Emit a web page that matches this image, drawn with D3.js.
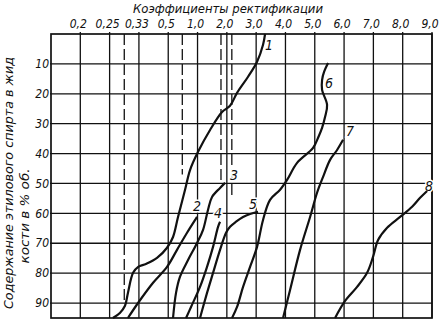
<!DOCTYPE html>
<html>
<head>
<meta charset="utf-8">
<script src="https://cdn.jsdelivr.net/npm/d3@7"></script>
<style>
    body { margin: 0; background: #fff; }
    text { font-family: 'Liberation Sans Narrow', 'DejaVu Sans Condensed', sans-serif; font-style: italic; fill: #111; }
</style>
</head>
<body>
<div class="chart"></div>
<script>
// rectification coefficients along the top, alcohol content (% vol.) down the side
const coefTicks = [0.2, 0.25, 0.33, 0.5, 1.0, 2.0, 3.0, 4.0, 5.0, 6.0, 7.0, 8.0, 9.0];
const coefLabels = ['0,2', '0,25', '0,33', '0,5', '1,0', '2,0', '3,0', '4,0', '5,0', '6,0', '7,0', '8,0', '9,0'];
const axisStart = 0.15;   // unlabeled left edge of the grid
const contentTicks = [10, 20, 30, 40, 50, 60, 70, 80, 90];

// dashed reference coefficients and the content where each one stops
const dashedCoefs = [0.29, 0.74, 1.8, 2.17];
const dashedEnds = [89, 47, 49.5, 55];

const curveNames = ['1', '2', '3', '4', '5', '6', '7', '8'];
// [coefficient, content %]
const curve1 = [[0.259, 95], [0.278, 93.3], [0.292, 90.9], [0.300, 86.6], [0.314, 79.9], [0.328, 77.9],
    [0.371, 76.9], [0.435, 74.9], [0.493, 71.5], [0.582, 67.9], [0.667, 61.2], [0.787, 52.1],
    [0.872, 45.5], [1.017, 39.4], [1.427, 32.1], [1.836, 26.1], [2.109, 24.0], [2.348, 19.7],
    [2.724, 14.3], [3.031, 9.3], [3.235, 3.6], [3.304, 0]];
const curve2 = [[0.300, 95], [0.328, 89.9], [0.412, 83.2], [0.493, 77.9], [0.650, 72.2], [0.821, 66.5], [0.992, 61.2]];
const curve3 = [[0.582, 95], [0.633, 86.6], [0.701, 81.2], [0.838, 75.6], [0.992, 69.9], [1.188, 65.5],
    [1.358, 58.8], [1.495, 54.5], [1.768, 51.5], [1.939, 49.8]];
const curve4 = [[0.804, 95], [0.889, 91.3], [1.085, 84.6], [1.324, 77.9], [1.529, 71.2], [1.700, 64.5], [1.768, 62.8]];
const curve5 = [[1.085, 95], [1.188, 91.3], [1.324, 86.6], [1.529, 79.9], [1.768, 72.2], [1.973, 66.5],
    [2.109, 64.5], [2.314, 62.8], [2.553, 61.2], [2.792, 60.2], [3.065, 59.5]];
const curve6 = [[2.177, 95], [2.348, 91.3], [2.553, 84.6], [2.792, 77.9], [3.031, 71.2], [3.235, 62.2],
    [3.474, 55.5], [3.816, 52.1], [4.055, 48.8], [4.396, 43.1], [4.942, 38.1], [5.113, 34.7],
    [5.249, 31.4], [5.352, 27.7], [5.420, 23.7], [5.249, 18.7], [5.249, 15.4], [5.317, 12.7], [5.454, 9.7]];
const curve7 = [[3.918, 95], [4.157, 85.6], [4.498, 72.2], [4.840, 61.2], [5.078, 53.1], [5.283, 47.8],
    [5.522, 42.1], [5.761, 38.8], [5.966, 35.4]];
const curve8 = [[5.693, 95], [6.034, 89.3], [6.444, 84.6], [6.785, 79.9], [6.990, 74.5], [7.160, 68.9],
    [7.468, 64.8], [7.911, 61.2], [8.321, 57.8], [8.594, 54.8], [8.833, 52.5]];
const curves = [curve1, curve2, curve3, curve4, curve5, curve6, curve7, curve8];

const width = 447, height = 324;
const gLeft = 51, gRight = 432, gTop = 34, gBottom = 318;

const svg = d3.select('.chart')
    .append('svg')
    .attr('width', width)
    .attr('height', height);

const xDomain = [axisStart, ...coefTicks];
const step = (gRight - gLeft) / (xDomain.length - 1);
const x = d3.scaleLinear()
    .domain(xDomain)
    .range(xDomain.map((d, i) => gLeft + i * step));

const y = d3.scaleLinear()
    .domain([0, 95])
    .range([gTop, gBottom]);

// grid
const grid = svg.append('g').attr('stroke', '#111').attr('fill', 'none');

grid.selectAll('.vline')
    .data(coefTicks)
    .join('line')
    .attr('x1', d => x(d)).attr('x2', d => x(d))
    .attr('y1', gTop - 2).attr('y2', gBottom)
    .attr('stroke-width', 1.3);

grid.selectAll('.hline')
    .data(contentTicks)
    .join('line')
    .attr('x1', gLeft - 1).attr('x2', gRight)
    .attr('y1', d => y(d)).attr('y2', d => y(d))
    .attr('stroke-width', 1.3);

grid.append('rect')
    .attr('x', gLeft).attr('y', gTop)
    .attr('width', gRight - gLeft).attr('height', gBottom - gTop)
    .attr('stroke-width', 1.7);

grid.selectAll('.dash')
    .data(dashedCoefs)
    .join('line')
    .attr('x1', d => x(d)).attr('x2', d => x(d))
    .attr('y1', gTop).attr('y2', (d, i) => y(dashedEnds[i]))
    .attr('stroke-width', 1.3)
    .attr('stroke-dasharray', '11,4');

// axis labels
svg.append('g')
    .attr('font-size', 12)
    .attr('text-anchor', 'middle')
    .selectAll('text')
    .data(coefTicks)
    .join('text')
    .attr('x', d => x(d) - 2)
    .attr('y', 28)
    .text((d, i) => coefLabels[i]);

svg.append('g')
    .attr('font-size', 12)
    .attr('text-anchor', 'end')
    .selectAll('text')
    .data(contentTicks)
    .join('text')
    .attr('x', gLeft - 2)
    .attr('y', d => y(d))
    .attr('dy', '0.35em')
    .text(d => d);

svg.append('text')
    .attr('x', 228)
    .attr('y', 13)
    .attr('text-anchor', 'middle')
    .attr('font-size', 13)
    .attr('textLength', 190)
    .attr('lengthAdjust', 'spacingAndGlyphs')
    .text('Коэффициенты ректификации');

svg.append('text')
    .attr('transform', 'translate(13, 183) rotate(-90)')
    .attr('text-anchor', 'middle')
    .attr('font-size', 13)
    .attr('textLength', 252)
    .attr('lengthAdjust', 'spacingAndGlyphs')
    .text('Содержание этилового спирта в жид');

svg.append('text')
    .attr('transform', 'translate(29, 216) rotate(-90)')
    .attr('text-anchor', 'middle')
    .attr('font-size', 13)
    .attr('textLength', 95)
    .attr('lengthAdjust', 'spacingAndGlyphs')
    .text('кости в % об.');

// curve numbers, placed near the upper end of each curve; the white halo breaks the grid under them
const labelOffsets = [[4, 16], [0, -6], [9, -3], [-2, -4], [-5, -3], [1, 25], [7, -4], [2, 0]];
svg.append('g')
    .attr('font-size', 14)
    .attr('text-anchor', 'middle')
    .selectAll('text')
    .data(curves)
    .join('text')
    .attr('x', (d, i) => x(d[d.length - 1][0]) + labelOffsets[i][0])
    .attr('y', (d, i) => y(d[d.length - 1][1]) + labelOffsets[i][1])
    .attr('stroke', '#fff')
    .attr('stroke-width', 3)
    .attr('paint-order', 'stroke')
    .text((d, i) => curveNames[i]);

// curves
const line = d3.line()
    .x(d => x(d[0]))
    .y(d => y(d[1]))
    .curve(d3.curveCatmullRom);

svg.append('g')
    .selectAll('path')
    .data(curves)
    .join('path')
    .attr('d', line)
    .attr('fill', 'none')
    .attr('stroke', '#111')
    .attr('stroke-width', 2.2)
    .attr('stroke-linejoin', 'round');
</script>
</body>
</html>
